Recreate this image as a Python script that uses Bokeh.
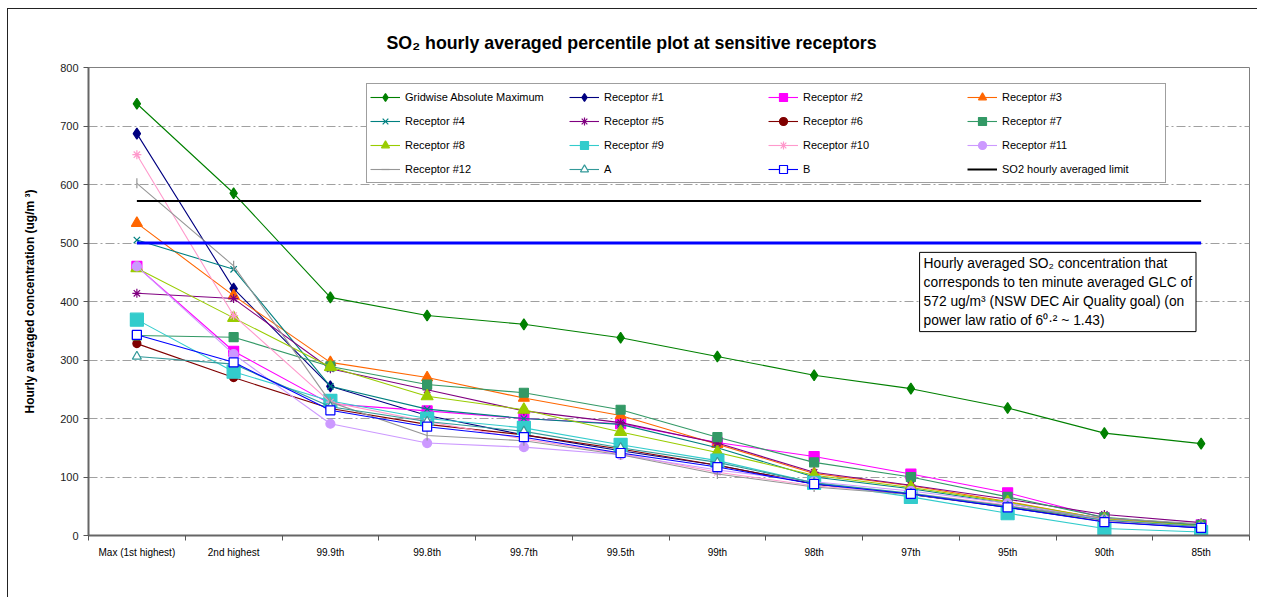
from bokeh.plotting import figure
from bokeh.models import FixedTicker, Legend, LegendItem, Label, Range1d
from bokeh.embed import file_html
from bokeh.resources import INLINE
import numpy as np

# ---------------- data ----------------
categories = ["Max (1st highest)", "2nd highest", "99.9th", "99.8th", "99.7th", "99.5th",
              "99th", "98th", "97th", "95th", "90th", "85th"]

gridwise_max = [738, 585, 407, 376, 361, 338, 306, 274, 251, 218, 175, 157]
receptor_1 = [687, 422, 255, 205, 172, 145, 120, 88, 70, 48, 24, 13]
receptor_2 = [460, 315, 225, 213, 200, 191, 159, 135, 105, 73, 30, 18]
receptor_3 = [534, 410, 296, 270, 235, 205, 156, 106, 85, 58, 28, 17]
receptor_4 = [505, 455, 255, 216, 200, 190, 150, 100, 80, 55, 27, 17]
receptor_5 = [414, 405, 285, 249, 213, 193, 158, 108, 86, 62, 36, 22]
receptor_6 = [328, 270, 217, 190, 172, 148, 120, 88, 70, 50, 25, 14]
receptor_7 = [342, 339, 289, 258, 244, 215, 168, 125, 100, 66, 31, 18]
receptor_8 = [457, 372, 288, 238, 215, 177, 142, 103, 82, 57, 28, 16]
receptor_9 = [369, 280, 230, 200, 184, 155, 128, 90, 66, 38, 12, 6]
receptor_10 = [651, 376, 228, 195, 165, 140, 108, 85, 72, 52, 25, 14]
receptor_11 = [460, 310, 191, 158, 151, 138, 112, 92, 76, 55, 27, 15]
receptor_12 = [602, 461, 228, 171, 162, 138, 105, 83, 70, 50, 30, 20]
receptor_a = [306, 293, 220, 195, 178, 150, 125, 90, 72, 50, 26, 15]
receptor_b = [343, 296, 214, 186, 168, 141, 117, 88, 71, 48, 23, 13]
so2_limit = [572, 572, 572, 572, 572, 572, 572, 572, 572, 572, 572, 572]
hourly_equiv = [500, 500, 500, 500, 500, 500, 500, 500, 500, 500, 500, 500]

y_ticks = [0, 100, 200, 300, 400, 500, 600, 700, 800]

# name, values, color, marker, size, fill, angle
series = [
    ("Gridwise Absolute Maximum", gridwise_max, "#008000", "diamond", 11, "#008000", 0),
    ("Receptor #1", receptor_1, "#000080", "diamond", 11, "#000080", 0),
    ("Receptor #2", receptor_2, "#FF00FF", "square", 10, "#FF00FF", 0),
    ("Receptor #3", receptor_3, "#FF6600", "triangle", 11, "#FF6600", 0),
    ("Receptor #4", receptor_4, "#008080", "x", 9, None, 0),
    ("Receptor #5", receptor_5, "#800080", "asterisk", 9, None, 0),
    ("Receptor #6", receptor_6, "#800000", "circle", 8, "#800000", 0),
    ("Receptor #7", receptor_7, "#339966", "square", 9, "#339966", 0),
    ("Receptor #8", receptor_8, "#99CC00", "triangle", 12, "#99CC00", 0),
    ("Receptor #9", receptor_9, "#33CCCC", "square", 13, "#33CCCC", 0),
    ("Receptor #10", receptor_10, "#FF99CC", "asterisk", 9, None, 0),
    ("Receptor #11", receptor_11, "#CC99FF", "circle", 9, "#CC99FF", 0),
    ("Receptor #12", receptor_12, "#969696", "dash", 10, None, np.pi / 2),
    ("A", receptor_a, "#339999", "triangle", 9, "white", 0),
    ("B", receptor_b, "#0000FF", "square", 9, "white", 0),
]

x = list(range(len(categories)))

FONT = "Liberation Sans"

p = figure(width=1250, height=589,
           x_range=Range1d(-0.5, len(categories) - 0.5), y_range=Range1d(0, 800),
           output_backend="svg", toolbar_location=None,
           min_border_left=80, min_border_right=9, min_border_top=58, min_border_bottom=63)
p.margin = (8, 0, 0, 7)
p.styles = {"border-left": "1px solid #222222", "border-top": "1px solid #222222"}

p.title.text = "SO\u2082 hourly averaged percentile plot at sensitive receptors"
p.title.align = "left"
p.title.offset = 298
p.title.text_font = FONT
p.title.text_font_size = "17.8px"
p.title.text_font_style = "bold"
p.title.text_color = "#000000"
p.title.standoff = 30

p.outline_line_color = "#808080"
p.outline_line_width = 1
p.background_fill_color = "white"
p.border_fill_color = "white"

# x axis
p.xaxis.ticker = FixedTicker(ticks=x, minor_ticks=[i - 0.5 for i in range(len(categories) + 1)])
p.xaxis.major_label_overrides = {i: c for i, c in enumerate(categories)}
p.xaxis.major_tick_out = 0
p.xaxis.major_tick_in = 0
p.xaxis.minor_tick_out = 5
p.xaxis.minor_tick_in = 0
p.xaxis.minor_tick_line_color = "#555555"
p.xaxis.axis_line_color = "#666666"
p.xaxis.axis_line_width = 2
p.xaxis.major_label_text_font = FONT
p.xaxis.major_label_text_font_size = "10px"
p.xaxis.major_label_text_color = "#000000"
p.xaxis.major_label_standoff = 6

# y axis
p.yaxis.ticker = FixedTicker(ticks=y_ticks)
p.yaxis.minor_tick_line_color = None
p.yaxis.major_tick_out = 5
p.yaxis.major_tick_in = 0
p.yaxis.major_tick_line_color = "#555555"
p.yaxis.axis_line_color = "#666666"
p.yaxis.axis_line_width = 2
p.yaxis.major_label_text_font = FONT
p.yaxis.major_label_text_font_size = "11px"
p.yaxis.major_label_text_color = "#222222"
p.yaxis.axis_label = "Hourly averaged concentration (ug/m \u00b3)"
p.yaxis.axis_label_text_font = FONT
p.yaxis.axis_label_text_font_size = "12px"
p.yaxis.axis_label_text_font_style = "bold"
p.yaxis.axis_label_text_color = "#000000"
p.yaxis.axis_label_standoff = 20

p.xgrid.visible = False
p.ygrid.grid_line_color = "#a0a0a0"
p.ygrid.grid_line_dash = "9 3 2 3"
p.ygrid.grid_line_width = 1

items = []
for name, vals, color, marker, size, fill, angle in series:
    lr = p.line(x, vals, line_color=color, line_width=1.1)
    sr = p.scatter(x, vals, marker=marker, size=size, line_color=color,
                   fill_color=fill, line_width=1.2, angle=angle)
    items.append(LegendItem(label=name, renderers=[lr, sr]))

lim = p.line(x, so2_limit, line_color="#000000", line_width=2)
items.append(LegendItem(label="SO2 hourly averaged limit", renderers=[lim]))
p.line(x, hourly_equiv, line_color="#0000FF", line_width=3)

legend = Legend(items=items, location=(278, 352), orientation="horizontal", ncols=4,
                label_text_font=FONT, label_text_font_size="11px", label_text_color="#000000",
                glyph_width=30, glyph_height=20, label_height=20, label_width=160,
                label_standoff=5, spacing=4, padding=3, margin=0,
                border_line_color="#404040", border_line_width=1,
                background_fill_color="white", background_fill_alpha=1.0)
p.add_layout(legend, "center")

note = Label(x=8.09, y=484, anchor="top_left",
             text="Hourly averaged SO\u2082 concentration that\ncorresponds to ten minute averaged GLC of\n"
                  "572 ug/m\u00b3 (NSW DEC Air Quality goal) (on\npower law ratio of 6\u2070\u00b7\u00b2 ~ 1.43)",
             text_font=FONT, text_font_size="13.8px", text_color="#000000",
             text_line_height=1.25, padding=4,
             border_line_color="#000000", border_line_width=1,
             background_fill_color="white", background_fill_alpha=1.0)
p.add_layout(note)

open("out.html", "w").write(file_html(p, INLINE))
